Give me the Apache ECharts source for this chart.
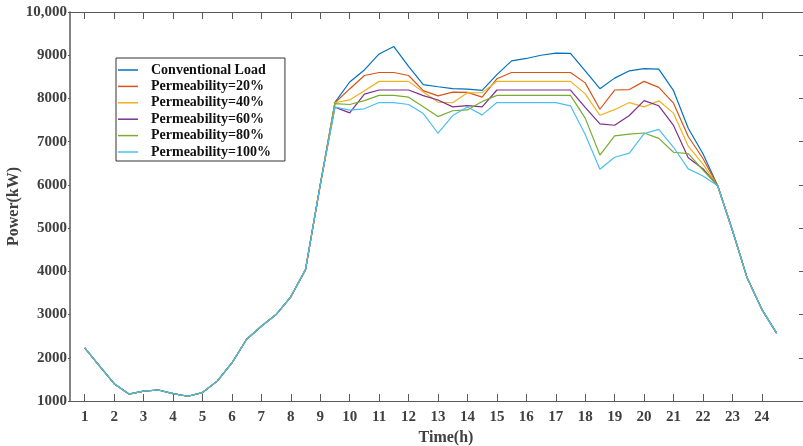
<!DOCTYPE html>
<html>
<head>
<meta charset="utf-8">
<script src="https://cdn.jsdelivr.net/npm/echarts@6/dist/echarts.min.js"></script>
<style>
  html, body { margin: 0; padding: 0; background: #fff; }
  #chart { width: 803px; height: 446px; }
</style>
</head>
<body>
<div id="chart"></div>
<script>
// Half-hourly sample times (h)
var times = [1, 1.5, 2, 2.5, 3, 3.5, 4, 4.5, 5, 5.5, 6, 6.5, 7, 7.5, 8, 8.5, 9, 9.5,
  10, 10.5, 11, 11.5, 12, 12.5, 13, 13.5, 14, 14.5, 15, 15.5, 16, 16.5, 17, 17.5,
  18, 18.5, 19, 19.5, 20, 20.5, 21, 21.5, 22, 22.5, 23, 23.5, 24, 24.5];

// Hour tick marks along the time axis
var hourTicks = [1, 2, 3, 4, 5, 6, 7, 8, 9, 10, 11, 12, 13, 14, 15, 16, 17, 18, 19, 20, 21, 22, 23, 24];

var seriesNames = ['Conventional Load', 'Permeability=20%', 'Permeability=40%',
  'Permeability=60%', 'Permeability=80%', 'Permeability=100%'];

// Power (kW)
var conventionalLoad = [2230, 1810, 1400, 1160, 1230, 1255, 1170, 1110, 1195, 1460, 1880, 2430, 2730, 3000, 3410, 4040, 6000,
  7910, 8380, 8660, 9030, 9200, 8740, 8320, 8270, 8225, 8215, 8185, 8550, 8870, 8925, 9000, 9050, 9045,
  8640, 8225, 8470, 8640, 8690, 8680, 8180, 7310, 6720, 5980, 4950, 3850, 3120, 2570];
var perm20 = [2230, 1810, 1400, 1160, 1230, 1255, 1170, 1110, 1195, 1460, 1880, 2430, 2730, 3000, 3410, 4040, 6000,
  7900, 8220, 8530, 8600, 8600, 8530, 8180, 8060, 8145, 8140, 8030, 8455, 8600, 8600, 8600, 8600, 8600,
  8360, 7750, 8195, 8205, 8395, 8255, 7890, 7120, 6610, 5980, 4950, 3850, 3120, 2570];
var perm40 = [2230, 1810, 1400, 1160, 1230, 1255, 1170, 1110, 1195, 1460, 1880, 2430, 2730, 3000, 3410, 4040, 6000,
  7900, 7965, 8180, 8395, 8395, 8395, 8150, 7915, 7900, 8130, 8135, 8395, 8395, 8395, 8395, 8395, 8395,
  8105, 7610, 7740, 7905, 7805, 7945, 7660, 6895, 6480, 5980, 4950, 3850, 3120, 2570];
var perm60 = [2230, 1810, 1400, 1160, 1230, 1255, 1170, 1110, 1195, 1460, 1880, 2430, 2730, 3000, 3410, 4040, 6000,
  7800, 7665, 8100, 8195, 8195, 8195, 8065, 7965, 7805, 7835, 7805, 8195, 8195, 8195, 8195, 8195, 8195,
  7795, 7410, 7380, 7605, 7950, 7830, 7375, 6630, 6375, 5980, 4950, 3850, 3120, 2570];
var perm80 = [2230, 1810, 1400, 1160, 1230, 1255, 1170, 1110, 1195, 1460, 1880, 2430, 2730, 3000, 3410, 4040, 6000,
  7880, 7860, 7950, 8070, 8070, 8030, 7810, 7580, 7715, 7735, 7930, 8070, 8070, 8070, 8070, 8070, 8070,
  7545, 6690, 7135, 7175, 7200, 7075, 6755, 6725, 6345, 5980, 4950, 3850, 3120, 2570];
var perm100 = [2230, 1810, 1400, 1160, 1230, 1255, 1170, 1110, 1195, 1460, 1880, 2430, 2730, 3000, 3410, 4040, 6000,
  7800, 7730, 7760, 7905, 7905, 7860, 7650, 7195, 7605, 7800, 7620, 7905, 7905, 7905, 7905, 7905, 7830,
  7165, 6360, 6640, 6735, 7185, 7285, 6870, 6370, 6205, 5980, 4950, 3850, 3120, 2570];

var seriesValues = [conventionalLoad, perm20, perm40, perm60, perm80, perm100];
var seriesColors = ['#0072BD', '#D95319', '#EDB120', '#7E2F8E', '#77AC30', '#4DBEEE'];

var font = '"Liberation Serif", "Times New Roman", serif';
var axisGray = '#5a5a5a';
var labelGray = '#404040';

function pairs(values) {
  return values.map(function (v, i) { return [times[i], v]; });
}

var chart = echarts.init(document.getElementById('chart'), null, { renderer: 'canvas' });

chart.setOption({
  animation: false,
  backgroundColor: '#fff',
  grid: { left: 70, right: -3, top: 12, bottom: 45, containLabel: false, outerBoundsMode: 'none' },
  legend: {
    orient: 'vertical',
    left: 116,
    top: 58,
    backgroundColor: '#fff',
    borderColor: '#333',
    borderWidth: 1,
    borderRadius: 0,
    padding: [5, 14, 2, 2],
    itemGap: 2.4,
    icon: 'rect',
    itemWidth: 20,
    itemHeight: 1.5,
    data: seriesNames,
    textStyle: {
      fontFamily: font,
      fontWeight: 'bold',
      fontSize: 14,
      lineHeight: 14,
      color: '#111',
      padding: [0, 0, 0, 8]
    }
  },
  xAxis: [{
    type: 'value',
    position: 'bottom',
    min: 0.5,
    max: 25.5,
    name: 'Time(h)',
    nameLocation: 'middle',
    nameGap: 28,
    nameTextStyle: { fontFamily: font, fontWeight: 'bold', fontSize: 16, color: labelGray, padding: [0, 0, 0, 16] },
    splitLine: { show: false },
    axisLine: { show: true, lineStyle: { color: axisGray, width: 1 } },
    axisTick: { show: true, inside: true, length: 7, customValues: hourTicks, lineStyle: { color: axisGray } },
    axisLabel: {
      customValues: hourTicks,
      margin: 9,
      fontFamily: font, fontWeight: 'bold', fontSize: 15, color: labelGray
    }
  }, {
    type: 'value',
    position: 'top',
    min: 0.5,
    max: 25.5,
    splitLine: { show: false },
    axisLine: { show: true, lineStyle: { color: axisGray, width: 1 } },
    axisTick: { show: true, inside: true, length: 7, customValues: hourTicks, lineStyle: { color: axisGray } },
    axisLabel: { show: false }
  }],
  yAxis: [{
    type: 'value',
    position: 'left',
    min: 1000,
    max: 10000,
    interval: 1000,
    name: 'Power(kW)',
    nameLocation: 'middle',
    nameRotate: 90,
    nameGap: 48,
    nameMoveOverlap: false,
    nameTextStyle: { fontFamily: font, fontWeight: 'bold', fontSize: 16, color: labelGray },
    splitLine: { show: false },
    axisLine: { show: true, lineStyle: { color: axisGray, width: 1.5 } },
    axisTick: { show: true, inside: false, length: 2, lineStyle: { color: axisGray } },
    axisLabel: {
      margin: 3,
      fontFamily: font, fontWeight: 'bold', fontSize: 15, color: labelGray,
      formatter: function (v) { return v >= 10000 ? '10,000' : String(v); }
    }
  }, {
    type: 'value',
    position: 'right',
    min: 1000,
    max: 10000,
    interval: 1000,
    splitLine: { show: false },
    axisLine: { show: true, lineStyle: { color: axisGray, width: 1 } },
    axisTick: { show: true, inside: true, length: 7, lineStyle: { color: axisGray } },
    axisLabel: { show: false }
  }],
  series: seriesNames.map(function (name, k) {
    return {
      name: name,
      type: 'line',
      xAxisIndex: 0,
      yAxisIndex: 0,
      data: pairs(seriesValues[k]),
      showSymbol: false,
      symbol: 'none',
      smooth: false,
      color: seriesColors[k],
      lineStyle: { color: seriesColors[k], width: 1.2 },
      z: 2 + k
    };
  })
});
</script>
</body>
</html>
